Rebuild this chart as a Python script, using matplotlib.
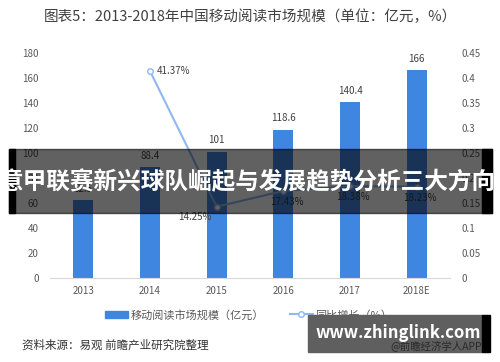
import numpy as np
import matplotlib.pyplot as plt
from matplotlib.patches import Rectangle
from matplotlib.lines import Line2D

plt.rcParams["font.family"] = ["Noto Sans CJK SC", "DejaVu Sans"]

years = ["2013", "2014", "2015", "2016", "2017", "2018E"]
market_size = [62.5, 88.4, 101, 118.6, 140.4, 166]
growth = [np.nan, 0.4137, 0.1425, 0.1741, 0.1838, 0.1823]
growth_labels = ["", "41.37%", "14.25%", "17.43%", "18.38%", "18.23%"]
left_ticks = [0, 20, 40, 60, 80, 100, 120, 140, 160, 180]
right_ticks = [0, 0.05, 0.1, 0.15, 0.2, 0.25, 0.3, 0.35, 0.4, 0.45]
right_tick_labels = ["0", "0.05", "0.1", "0.15", "0.2", "0.25", "0.3", "0.35", "0.4", "0.45"]

bar_color = "#3f86e0"
line_color = "#8fb8ee"
tick_color = "#595959"

fig = plt.figure(figsize=(5, 3.62), dpi=100)
ax = fig.add_axes([0.1, 0.232, 0.8, 0.622])
x = np.arange(len(years))

ax.bar(x, market_size, width=0.3, color=bar_color, zorder=2)
for xi, v in zip(x, market_size):
    ax.text(xi, v + 5, f"{v:g}", ha="center", va="bottom", fontsize=7, color="#404040")

ax.set_xlim(-0.5, 5.5)
ax.set_ylim(0, 180)
ax.set_yticks(left_ticks)
ax.set_xticks(x)
ax.set_xticklabels(years)
ax.tick_params(axis="both", length=0, labelsize=7, labelcolor=tick_color)
ax.tick_params(axis="x", pad=6)
ax.tick_params(axis="y", pad=8)
for s in ["top", "right", "left"]:
    ax.spines[s].set_visible(False)
ax.spines["bottom"].set_color("#d9d9d9")

ax2 = ax.twinx()
ax2.plot(x, growth, color=line_color, lw=1.5, marker="o", ms=4,
         markerfacecolor="white", markeredgecolor=line_color, zorder=3)
ax2.set_ylim(0, 0.45)
ax2.set_yticks(right_ticks)
ax2.set_yticklabels(right_tick_labels)
ax2.tick_params(axis="y", length=0, labelsize=7, labelcolor=tick_color, pad=8)
for s in ax2.spines.values():
    s.set_visible(False)

ax2.text(x[1] + 0.1, growth[1], growth_labels[1], ha="left", va="center",
         fontsize=7, color="#404040")
ax2.text(x[2] - 0.08, growth[2] - 0.01, growth_labels[2], ha="right", va="top",
         fontsize=7, color="#404040")
for i in range(3, 6):
    ax2.text(x[i] + 0.05, growth[i] - 0.012, growth_labels[i], ha="center", va="top",
             fontsize=7, color="#404040")

fig.text(0.5, 0.955, "图表5：2013-2018年中国移动阅读市场规模（单位：亿元，%）",
         ha="center", va="center", fontsize=10.5, color="#404040")

handles = [
    Rectangle((0, 0), 1, 1, color=bar_color),
    Line2D([0], [0], color=line_color, lw=1.5, marker="o", ms=4,
           markerfacecolor="white", markeredgecolor=line_color),
]
fig.legend(handles, ["移动阅读市场规模（亿元）", "同比增长（%）"], loc="center",
           bbox_to_anchor=(0.497, 0.13), ncol=2, frameon=False, fontsize=8,
           labelcolor=tick_color, handlelength=2.1, columnspacing=2.3, handletextpad=0.2)

fig.text(0.044, 0.046, "资料来源：易观 前瞻产业研究院整理", ha="left", va="center",
         fontsize=8.3, color="#333333", style="italic")

# banner overlay
fig.patches.append(Rectangle((0.018, 1 - 213 / 362), 0.966, 64 / 362,
                             transform=fig.transFigure, color="black", alpha=0.62,
                             zorder=10))
fig.patches.append(Rectangle((0.018, 1 - 213 / 362), 0.012, 64 / 362,
                             transform=fig.transFigure, color="black", zorder=11))
fig.patches.append(Rectangle((0.964, 1 - 213 / 362), 0.02, 64 / 362,
                             transform=fig.transFigure, color="black", zorder=11))
fig.text(0.495, 1 - 182 / 362, "意甲联赛新兴球队崛起与发展趋势分析三大方向", ha="center",
         va="center", fontsize=17, fontweight="bold", color="white", zorder=12)

# watermark box
fig.patches.append(Rectangle((308 / 500, 1 - 352 / 362), 174 / 500, 37 / 362,
                             transform=fig.transFigure, color="#5f5f5f", zorder=10))
fig.patches.append(Rectangle((482 / 500, 1 - 352 / 362), 8 / 500, 37 / 362,
                             transform=fig.transFigure, color="black", zorder=10))
fig.text(398 / 500, 1 - 333 / 362, "www.zhinglink.com", ha="center", va="center",
         fontsize=12, fontweight="bold", color="white", zorder=12)
fig.text(482 / 500, 1 - 346 / 362, "@前瞻经济学人APP", ha="right", va="center",
         fontsize=7.5, color="#2a2a2a", zorder=11)

fig.savefig("out.png", dpi=100)
